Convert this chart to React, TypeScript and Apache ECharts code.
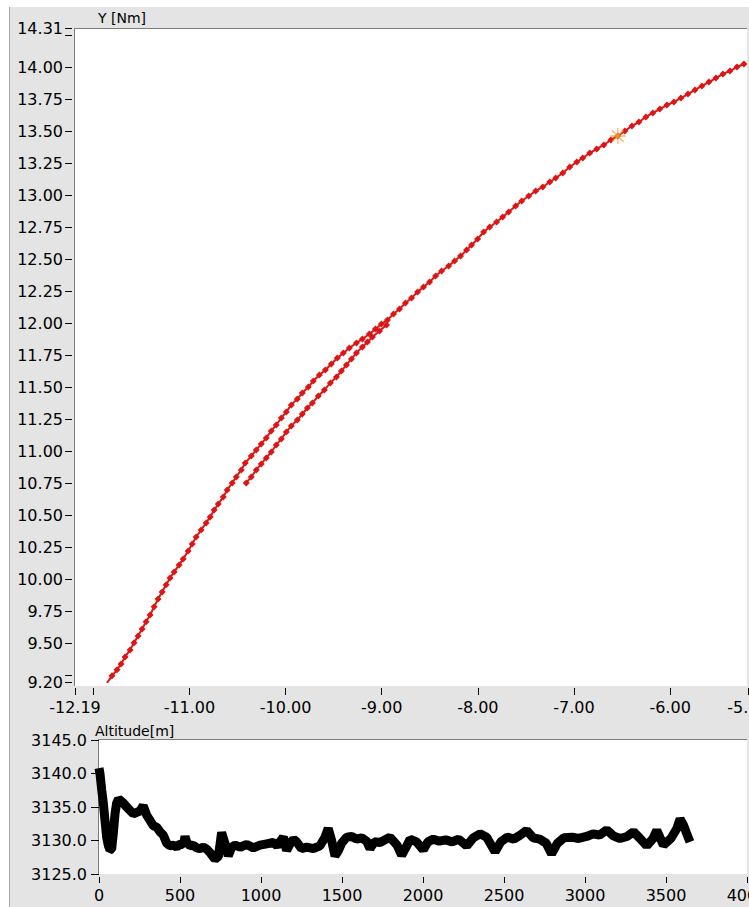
import React, { useEffect, useRef } from "react";
import * as echarts from "echarts";

// Track (upper / main branch), X [Nm] and Y [Nm]
const trackMainX = [
  -11.857, -11.805, -11.753, -11.711, -11.669, -11.617, -11.576, -11.534, -11.492, -11.451,
  -11.409, -11.367, -11.326, -11.284, -11.242, -11.201, -11.159, -11.107, -11.065, -11.013,
  -10.971, -10.93, -10.878, -10.826, -10.784, -10.742, -10.7, -10.648, -10.607, -10.555,
  -10.513, -10.461, -10.419, -10.357, -10.305, -10.253, -10.201, -10.149, -10.097, -10.044,
  -9.992, -9.94, -9.878, -9.826, -9.763, -9.711, -9.648, -9.586, -9.524, -9.461,
  -9.399, -9.336, -9.263, -9.201, -9.128, -9.065, -9.003, -8.94, -8.877, -8.815,
  -8.753, -8.69, -8.627, -8.565, -8.502, -8.44, -8.377, -8.304, -8.242, -8.18,
  -8.117, -8.065, -8.002, -7.94, -7.877, -7.805, -7.742, -7.68, -7.607, -7.544,
  -7.471, -7.398, -7.325, -7.252, -7.19, -7.117, -7.044, -6.971, -6.909, -6.836,
  -6.763, -6.69, -6.617, -6.544, -6.471, -6.398, -6.325, -6.252, -6.18, -6.107,
  -6.034, -5.961, -5.888, -5.815, -5.742, -5.669, -5.597, -5.524, -5.451, -5.378,
  -5.305, -5.232,
];
const trackMainY = [
  9.193, 9.248, 9.295, 9.341, 9.396, 9.451, 9.506, 9.56, 9.615, 9.67,
  9.724, 9.787, 9.849, 9.904, 9.959, 10.013, 10.06, 10.115, 10.162, 10.224,
  10.279, 10.333, 10.388, 10.443, 10.49, 10.544, 10.591, 10.646, 10.701, 10.755,
  10.802, 10.857, 10.912, 10.966, 11.013, 11.06, 11.107, 11.162, 11.208, 11.263,
  11.31, 11.365, 11.412, 11.458, 11.505, 11.552, 11.599, 11.638, 11.685, 11.732,
  11.771, 11.81, 11.849, 11.88, 11.919, 11.958, 11.997, 12.029, 12.075, 12.115,
  12.161, 12.2, 12.247, 12.286, 12.325, 12.372, 12.411, 12.45, 12.489, 12.528,
  12.575, 12.614, 12.661, 12.716, 12.755, 12.794, 12.833, 12.872, 12.919, 12.958,
  12.997, 13.036, 13.068, 13.107, 13.138, 13.177, 13.224, 13.263, 13.294, 13.333,
  13.365, 13.396, 13.435, 13.466, 13.505, 13.544, 13.576, 13.615, 13.646, 13.677,
  13.708, 13.732, 13.763, 13.794, 13.826, 13.857, 13.888, 13.919, 13.951, 13.974,
  14.005, 14.029,
];

// Track (lower branch)
const trackBranchX = [
  -10.409, -10.357, -10.305, -10.253, -10.201, -10.149, -10.097, -10.044, -9.992, -9.94,
  -9.878, -9.826, -9.773, -9.721, -9.659, -9.596, -9.534, -9.471, -9.419, -9.367,
  -9.315, -9.263, -9.201, -9.148, -9.096, -9.023, -8.95,
];
const trackBranchY = [
  10.755, 10.802, 10.857, 10.904, 10.951, 10.997, 11.052, 11.099, 11.154, 11.201,
  11.247, 11.294, 11.341, 11.38, 11.435, 11.482, 11.537, 11.583, 11.63, 11.677,
  11.724, 11.771, 11.818, 11.857, 11.896, 11.943, 11.99,
];

// Cursor position
const cursorX = -6.544;
const cursorY = 13.466;

// Altitude [m] over sample index
const altIndex = [
  0, 6, 17, 27, 37, 47, 58, 68, 78, 88,
  99, 109, 120, 130, 150, 171, 191, 212, 233, 253,
  273, 294, 315, 335, 356, 377, 397, 418, 438, 459,
  480, 500, 521, 531, 541, 562, 582, 603, 623, 644,
  665, 685, 716, 737, 757, 778, 798, 819, 840, 870,
  912, 953, 994, 1035, 1076, 1100, 1138, 1158, 1179, 1200,
  1220, 1250, 1282, 1323, 1364, 1395, 1415, 1436, 1457, 1478,
  1498, 1529, 1560, 1590, 1621, 1652, 1673, 1700, 1735, 1796,
  1840, 1868, 1900, 1920, 1960, 2002, 2030, 2064, 2100, 2140,
  2180, 2220, 2270, 2310, 2352, 2393, 2445, 2480, 2520, 2560,
  2600, 2640, 2680, 2720, 2760, 2794, 2830, 2870, 2920, 2960,
  3010, 3050, 3090, 3134, 3175, 3216, 3260, 3299, 3340, 3381,
  3420, 3443, 3484, 3530, 3567, 3587, 3608, 3628, 3648,
];
const altValue = [
  3140.8, 3140.0, 3137.5, 3135.5, 3133.0, 3130.5, 3129.2, 3128.6, 3128.7, 3131.0,
  3134.0, 3135.6, 3136.2, 3136.0, 3135.6, 3135.0, 3134.5, 3134.0, 3134.2, 3134.4,
  3135.2, 3133.8, 3133.0, 3132.2, 3132.0, 3131.3, 3130.8, 3129.6, 3129.2, 3129.3,
  3129.0, 3129.5, 3129.4, 3130.6, 3129.8, 3129.2, 3129.3, 3128.9, 3128.8, 3129.0,
  3128.7, 3128.2, 3127.2, 3127.6, 3131.2, 3129.5, 3127.7, 3129.0, 3129.3, 3129.0,
  3129.4, 3128.9, 3129.3, 3129.5, 3129.7, 3129.2, 3130.5, 3128.5, 3129.5, 3130.2,
  3129.8, 3128.8, 3129.0, 3128.8, 3129.2, 3130.5, 3131.8, 3130.0, 3127.7, 3128.5,
  3129.6, 3130.5, 3130.6, 3130.2, 3130.4, 3129.9, 3128.8, 3129.8, 3129.7, 3130.5,
  3129.3, 3127.8, 3129.2, 3130.2, 3129.8, 3128.6, 3129.8, 3130.2, 3129.9, 3130.1,
  3129.8, 3130.2, 3129.2, 3130.4, 3131.0, 3130.5, 3128.3, 3129.8, 3130.5, 3130.2,
  3130.8, 3131.5, 3130.4, 3130.2, 3129.6, 3128.0, 3129.6, 3130.4, 3130.5, 3130.3,
  3130.6, 3131.0, 3130.8, 3131.6, 3130.7, 3130.3, 3130.6, 3131.3, 3130.3, 3129.2,
  3130.3, 3131.5, 3129.3, 3130.3, 3131.8, 3133.2, 3132.3, 3131.0, 3129.8,
];

// Axis ticks / labels
const xTrackTicks = [-12.19, -12, -11, -10, -9, -8, -7, -6, -5.19];
const xTrackLabels = [-12.19, -11, -10, -9, -8, -7, -6, -5.19];
const yTrackTicks = [9.2, 9.25, 9.5, 9.75, 10, 10.25, 10.5, 10.75, 11, 11.25, 11.5, 11.75, 12, 12.25, 12.5, 12.75, 13, 13.25, 13.5, 13.75, 14, 14.25, 14.31];
const yTrackLabels = [9.2, 9.5, 9.75, 10, 10.25, 10.5, 10.75, 11, 11.25, 11.5, 11.75, 12, 12.25, 12.5, 12.75, 13, 13.25, 13.5, 13.75, 14, 14.31];

const FONT = "DejaVu Sans";
const RED = "#dd1515";
const PANEL = "#e4e4e4";

export default function App() {
  const ref = useRef<HTMLDivElement>(null);

  useEffect(() => {
    if (!ref.current) return;
    const chart = echarts.init(ref.current, undefined, { renderer: "svg" });

    const mainData = trackMainX.map((x, i) => [x, trackMainY[i]]);
    const branchData = trackBranchX.map((x, i) => [x, trackBranchY[i]]);
    const altData = altIndex.map((x, i) => [x, altValue[i]]);

    const labelStyle = { fontFamily: FONT, fontSize: 16, color: "#000" };

    chart.setOption({
      animation: false,
      backgroundColor: "#ffffff",
      graphic: [
        { type: "rect", z: -10, shape: { x: 9, y: 7, width: 740, height: 900 }, style: { fill: PANEL } },
        { type: "line", z: -9, shape: { x1: 9.5, y1: 7, x2: 9.5, y2: 907 }, style: { stroke: "#a8a8a8", lineWidth: 1 } },
        { type: "rect", z: -8, shape: { x: 74, y: 28, width: 673, height: 658 }, style: { fill: "#ffffff" } },
        { type: "line", z: -7, shape: { x1: 74, y1: 28.5, x2: 747, y2: 28.5 }, style: { stroke: "#7c7c7c", lineWidth: 1 } },
        { type: "line", z: -7, shape: { x1: 74.5, y1: 28, x2: 74.5, y2: 686 }, style: { stroke: "#7c7c7c", lineWidth: 1 } },
        { type: "rect", z: -8, shape: { x: 98, y: 739, width: 649, height: 135 }, style: { fill: "#ffffff" } },
        { type: "line", z: -7, shape: { x1: 98, y1: 739.5, x2: 747, y2: 739.5 }, style: { stroke: "#7c7c7c", lineWidth: 1 } },
        { type: "line", z: -7, shape: { x1: 98.5, y1: 739, x2: 98.5, y2: 874 }, style: { stroke: "#7c7c7c", lineWidth: 1 } },
        { type: "text", z: 10, x: 98, y: 11, style: { text: "Y [Nm]", fontFamily: FONT, fontSize: 14, fill: "#000" } },
        { type: "text", z: 10, x: 95, y: 724, style: { text: "Altitude[m]", fontFamily: FONT, fontSize: 14, fill: "#000" } },
      ],
      grid: [
        { left: 75, top: 28, width: 673, height: 654, outerBoundsMode: "none", containLabel: false },
        { left: 99, top: 740, width: 648, height: 134, outerBoundsMode: "none", containLabel: false },
      ],
      xAxis: [
        {
          gridIndex: 0,
          type: "value",
          min: -12.19,
          max: -5.19,
          offset: 6,
          axisLine: { show: false },
          axisTick: { show: true, length: 7, customValues: xTrackTicks, lineStyle: { color: "#000" } },
          axisLabel: { ...labelStyle, margin: 11, customValues: xTrackLabels, formatter: (v: number) => v.toFixed(2) },
          splitLine: { show: false },
        },
        {
          gridIndex: 1,
          type: "value",
          min: 0,
          max: 4000,
          interval: 500,
          offset: 3,
          axisLine: { show: false },
          axisTick: { show: true, length: 6, lineStyle: { color: "#000" } },
          axisLabel: { ...labelStyle, margin: 10, showMaxLabel: true, formatter: (v: number) => String(v) },
          splitLine: { show: false },
        },
      ],
      yAxis: [
        {
          gridIndex: 0,
          type: "value",
          min: 9.2,
          max: 14.31,
          offset: 3,
          axisLine: { show: false },
          axisTick: { show: true, length: 7, customValues: yTrackTicks, lineStyle: { color: "#000" } },
          axisLabel: { ...labelStyle, margin: 9, customValues: yTrackLabels, formatter: (v: number) => v.toFixed(2) },
          splitLine: { show: false },
        },
        {
          gridIndex: 1,
          type: "value",
          min: 3125,
          max: 3145,
          interval: 5,
          offset: 2,
          axisLine: { show: false },
          axisTick: { show: true, length: 8, lineStyle: { color: "#000" } },
          axisLabel: { ...labelStyle, margin: 10, formatter: (v: number) => v.toFixed(1) },
          splitLine: { show: false },
        },
      ],
      series: [
        {
          type: "line",
          xAxisIndex: 0,
          yAxisIndex: 0,
          data: mainData,
          symbol: "diamond",
          symbolSize: 7,
          showAllSymbol: true,
          lineStyle: { color: RED, width: 2 },
          itemStyle: { color: RED },
          z: 3,
        },
        {
          type: "line",
          xAxisIndex: 0,
          yAxisIndex: 0,
          data: branchData,
          symbol: "diamond",
          symbolSize: 7,
          showAllSymbol: true,
          lineStyle: { color: RED, width: 2 },
          itemStyle: { color: RED },
          z: 3,
        },
        {
          type: "scatter",
          xAxisIndex: 0,
          yAxisIndex: 0,
          data: [[cursorX, cursorY]],
          symbol: "path://M0,7L14,7M7,0L7,14M2,2L12,12M12,2L2,12",
          symbolSize: 16,
          itemStyle: { color: "none", borderColor: "#f2a640", borderWidth: 1.3 },
          z: 5,
        },
        {
          type: "line",
          xAxisIndex: 1,
          yAxisIndex: 1,
          data: altData,
          showSymbol: false,
          lineStyle: { color: "#000", width: 9, join: "bevel" },
          z: 3,
        },
      ],
    });

    return () => chart.dispose();
  }, []);

  return (
    <div
      ref={ref}
      style={{ position: "absolute", left: 0, top: 0, width: 749, height: 907 }}
    />
  );
}
